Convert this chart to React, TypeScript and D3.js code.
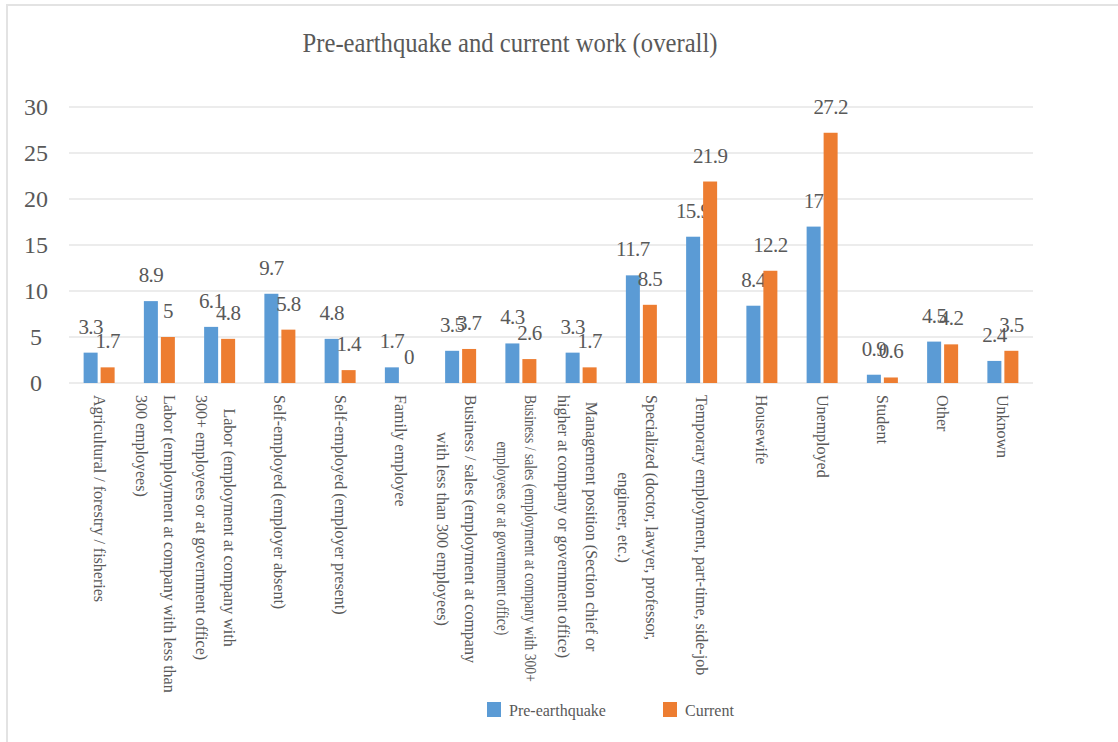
import React, {useRef, useEffect} from 'react';
import * as d3 from 'd3';

const width = 1118;
const height = 742;
const font = '"Liberation Serif", "Times New Roman", serif';
const textColor = '#595959';
const colors = {pre: '#5B9BD5', cur: '#ED7D31'};

// category labels, lines split as they wrap in the chart
const categories = [
  'Agricultural / forestry / fisheries',
  'Labor (employment at company with less than\n300 employees)',
  'Labor (employment at company with\n300+ employees or at government office)',
  'Self-employed (employer absent)',
  'Self-employed (employer present)',
  'Family employee',
  'Business / sales (employment at company\nwith less than 300 employees)',
  'Business / sales (employment at company with 300+\nemployees or at government office)',
  'Management position (Section chief or\nhigher at company or government office)',
  'Specialized (doctor, lawyer, professor,\nengineer, etc.)',
  'Temporary employment, part-time, side-job',
  'Housewife',
  'Unemployed',
  'Student',
  'Other',
  'Unknown',
];

const preEarthquake = [3.3, 8.9, 6.1, 9.7, 4.8, 1.7, 3.5, 4.3, 3.3, 11.7, 15.9, 8.4, 17, 0.9, 4.5, 2.4];
const current = [1.7, 5, 4.8, 5.8, 1.4, 0, 3.7, 2.6, 1.7, 8.5, 21.9, 12.2, 27.2, 0.6, 4.2, 3.5];
const yTicks = [0, 5, 10, 15, 20, 25, 30];

const seriesNames = ['Pre-earthquake', 'Current'];

const margin = {left: 69, right: 1033, top: 107, bottom: 383};

const draw = (container: SVGSVGElement) => {
  const svg = d3.select(container);
  svg.selectAll('*').remove();

  const x = d3
  .scaleBand<number>()
  .domain(categories.map((_, i) => i))
  .range([margin.left, margin.right]);

  const inner = d3
  .scaleBand<string>()
  .domain(['pre', 'cur'])
  .range([-15.5, 15.5])
  .paddingInner(0.176);

  const y = d3.scaleLinear().domain([0, 30]).range([margin.bottom, margin.top]);

  // frame
  svg
  .append('path')
  .attr('d', `M7,${height} V5 H${width}`)
  .attr('fill', 'none')
  .attr('stroke', '#E3E3E3')
  .attr('stroke-width', 2);

  // title
  svg
  .append('text')
  .attr('x', 510)
  .attr('y', 52)
  .attr('text-anchor', 'middle')
  .attr('font-family', font)
  .attr('font-size', 27)
  .attr('fill', textColor)
  .attr('textLength', 415)
  .attr('lengthAdjust', 'spacingAndGlyphs')
  .text('Pre-earthquake and current work (overall)');

  // gridlines
  svg
  .append('g')
  .selectAll('line')
  .data(yTicks)
  .enter()
  .append('line')
  .attr('x1', margin.left)
  .attr('x2', margin.right)
  .attr('y1', d => y(d))
  .attr('y2', d => y(d))
  .attr('stroke', '#D9D9D9')
  .attr('stroke-width', 1);

  // y tick labels
  svg
  .append('g')
  .selectAll('text')
  .data(yTicks)
  .enter()
  .append('text')
  .attr('x', 36)
  .attr('y', d => y(d))
  .attr('dy', '0.35em')
  .attr('text-anchor', 'middle')
  .attr('font-family', font)
  .attr('font-size', 24)
  .attr('fill', textColor)
  .text(d => d);

  const series = [
    {key: 'pre', values: preEarthquake, color: colors.pre},
    {key: 'cur', values: current, color: colors.cur},
  ];

  series.forEach(s => {
    const g = svg.append('g');
    g.selectAll('rect')
    .data(s.values)
    .enter()
    .append('rect')
    .attr('x', (_, i) => x(i)! + x.bandwidth() / 2 + inner(s.key)!)
    .attr('y', d => y(d))
    .attr('width', inner.bandwidth())
    .attr('height', d => y(0) - y(d))
    .attr('fill', s.color);

    g.selectAll('text')
    .data(s.values)
    .enter()
    .append('text')
    .attr('x', (_, i) => x(i)! + x.bandwidth() / 2 + inner(s.key)! + inner.bandwidth() / 2)
    .attr('y', d => y(d) - 19)
    .attr('text-anchor', 'middle')
    .attr('font-family', font)
    .attr('font-size', 21)
    .attr('letter-spacing', -0.6)
    .attr('fill', textColor)
    .text(d => d);
  });

  // category labels, rotated to read downwards
  const labels = svg.append('g').attr('font-family', font).attr('font-size', 16).attr('fill', textColor);
  categories.forEach((label, i) => {
    const lines = label.split('\n');
    const cx = x(i)! + x.bandwidth() / 2;
    const nodes = lines.map((line, li) => {
      const lx = lines.length > 1 ? cx + 10 - 28 * li : cx;
      return labels
      .append('text')
      .attr('transform', `translate(${lx}, 395) rotate(90)`)
      .attr('dy', '0.35em')
      .text(line);
    });
    // the wide 300+ business label is squeezed
    if (i === 7) {
      nodes.forEach(n => {
        const len = (n.node() as SVGTextElement).getComputedTextLength();
        n.attr('textLength', len * 0.85).attr('lengthAdjust', 'spacingAndGlyphs');
      });
    }
    const lens = nodes.map(n => {
      const el = n.node() as SVGTextElement;
      const tl = el.getAttribute('textLength');
      return tl ? +tl : el.getComputedTextLength();
    });
    const maxLen = d3.max(lens)!;
    if (lines.length > 1 && maxLen < 295) {
      nodes.forEach((n, li) => n.attr('x', (maxLen - lens[li]) / 2));
    }
  });

  // legend
  const legend = svg.append('g').attr('font-family', font).attr('font-size', 16).attr('fill', textColor);
  const legendX = [487, 663];
  seriesNames.forEach((name, i) => {
    legend
    .append('rect')
    .attr('x', legendX[i])
    .attr('y', 702)
    .attr('width', 14)
    .attr('height', 15)
    .attr('fill', i === 0 ? colors.pre : colors.cur);
    legend
    .append('text')
    .attr('x', legendX[i] + 22)
    .attr('y', 716)
    .text(name);
  });
};

export default function App() {
  const svgRef = useRef<SVGSVGElement>(null);
  useEffect(() => {
    if (svgRef.current) {
      draw(svgRef.current);
    }
  }, []);
  return (
    <svg
      ref={svgRef}
      width={width}
      height={height}
      style={{position: 'absolute', left: 0, top: 0, background: '#fff'}}
    />
  );
}
